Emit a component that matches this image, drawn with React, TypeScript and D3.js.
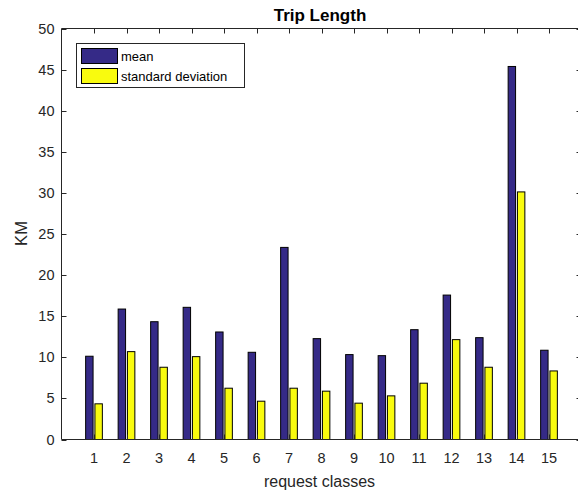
import React from "react";
import * as d3 from "d3";

const categories = [1, 2, 3, 4, 5, 6, 7, 8, 9, 10, 11, 12, 13, 14, 15];
const meanValues = [10.13, 15.87, 14.33, 16.08, 13.08, 10.61, 23.37, 12.27, 10.33, 10.2, 13.36, 17.57, 12.39, 45.38, 10.86];
const stdValues = [4.34, 10.69, 8.79, 10.08, 6.24, 4.66, 6.24, 5.88, 4.42, 5.31, 6.85, 12.15, 8.79, 30.12, 8.34];
const yTicks = [0, 5, 10, 15, 20, 25, 30, 35, 40, 45, 50];
const seriesNames = ["mean", "standard deviation"];
const seriesColors = ["#352a87", "#f9fb0e"];

export default function App() {
  const W = 578, H = 495;
  const left = 61.5, right = 581.5, top = 28.5, bottom = 439.5;
  const x = d3.scaleLinear().domain([0, 16]).range([left, right]);
  const y = d3.scaleLinear().domain([0, 50]).range([bottom, top]);
  const unit = x(1) - x(0);
  const groupW = Math.min(0.8, 2 / 3.5);
  const offsets = [-groupW / 4, groupW / 4];
  const barW = (groupW / 2) * 0.8 * unit;
  const axisColor = "#262626";
  const font = "'Liberation Sans', Arial, Helvetica, sans-serif";
  const series = [meanValues, stdValues];
  const tickLen = 5;

  return (
    <svg width={W} height={H} style={{ position: "absolute", left: 0, top: 0, background: "#fff" }} fontFamily={font}>
      <rect x={0} y={0} width={W} height={H} fill="#fff" />
      {series.map((vals, si) =>
        vals.map((v, i) => {
          const cx = x(categories[i] + offsets[si]);
          return (
            <rect
              key={`${si}-${i}`}
              x={cx - barW / 2}
              y={y(v)}
              width={barW}
              height={y(0) - y(v)}
              fill={seriesColors[si]}
              stroke="#000"
              strokeWidth={1}
            />
          );
        })
      )}
      <line x1={left} x2={left} y1={top} y2={bottom} stroke={axisColor} />
      <line x1={left} x2={right} y1={bottom} y2={bottom} stroke={axisColor} />
      <line x1={left} x2={right} y1={top} y2={top} stroke={axisColor} />
      <line x1={right} x2={right} y1={top} y2={bottom} stroke={axisColor} />
      {yTicks.map((t) => (
        <g key={`y${t}`}>
          <line x1={left} x2={left + tickLen} y1={Math.round(y(t)) + 0.5} y2={Math.round(y(t)) + 0.5} stroke={axisColor} />
          <line x1={right} x2={right - tickLen} y1={Math.round(y(t)) + 0.5} y2={Math.round(y(t)) + 0.5} stroke={axisColor} />
          <text x={left - 7} y={y(t)} dy="0.35em" textAnchor="end" fontSize={14.5} fill={axisColor}>
            {t}
          </text>
        </g>
      ))}
      {categories.map((c) => (
        <g key={`x${c}`}>
          <line x1={Math.round(x(c)) + 0.5} x2={Math.round(x(c)) + 0.5} y1={bottom} y2={bottom - tickLen} stroke={axisColor} />
          <line x1={Math.round(x(c)) + 0.5} x2={Math.round(x(c)) + 0.5} y1={top} y2={top + tickLen} stroke={axisColor} />
          <text x={x(c)} y={463} textAnchor="middle" fontSize={14.5} fill={axisColor}>
            {c}
          </text>
        </g>
      ))}
      <text x={319.5} y={487} textAnchor="middle" fontSize={16} fill={axisColor}>
        request classes
      </text>
      <text
        transform={`translate(${27},${233.5}) rotate(-90)`}
        textAnchor="middle"
        fontSize={16.5}
        fill={axisColor}
      >
        KM
      </text>
      <text x={320} y={20.5} textAnchor="middle" fontSize={17} fontWeight="bold" fill="#000">
        Trip Length
      </text>
      <rect x={76.5} y={43.5} width={168} height={44} fill="#fff" stroke={axisColor} strokeWidth={1} />
      {seriesNames.map((n, i) => (
        <g key={n}>
          <rect x={81.5} y={48.5 + i * 20} width={36} height={15} fill={seriesColors[i]} stroke="#000" />
          <text x={121} y={56 + i * 20} dy="0.35em" fontSize={13} fill="#000">
            {n}
          </text>
        </g>
      ))}
    </svg>
  );
}
